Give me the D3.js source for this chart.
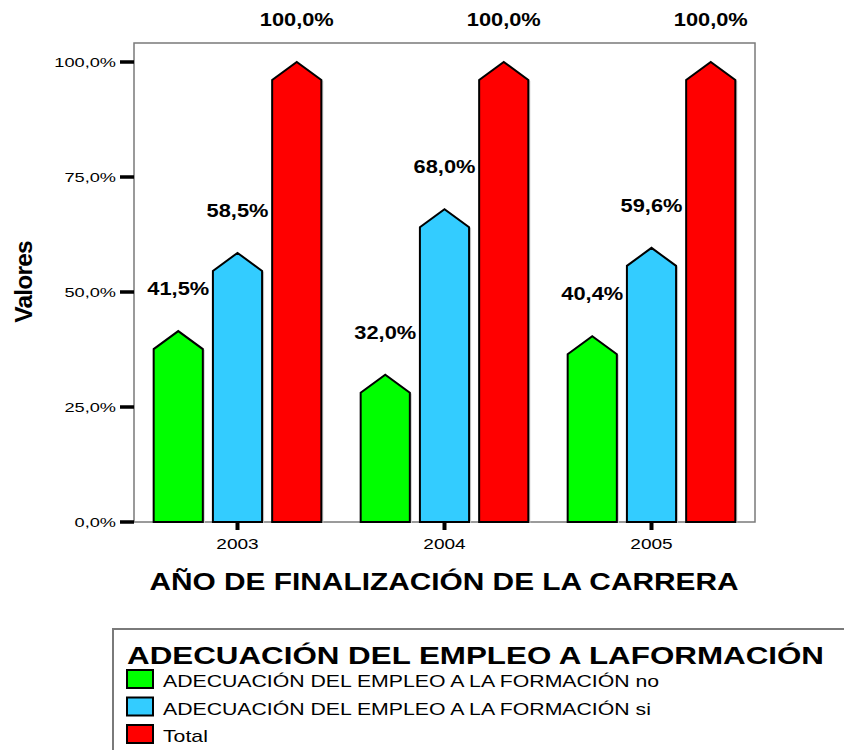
<!DOCTYPE html>
<html>
<head>
<meta charset="utf-8">
<script src="https://cdn.jsdelivr.net/npm/d3@7"></script>
<style>
  body { margin: 0; background: #fff; }
  svg { display: block; font-family: "Liberation Sans", Arial, sans-serif; }
</style>
</head>
<body>
<svg id="chart" width="844" height="750"></svg>
<script>
// data
const years = ["2003", "2004", "2005"];
const seriesKeys = ["no", "si", "total"];
const seriesLabels = [
  "ADECUACIÓN DEL EMPLEO A LA FORMACIÓN no",
  "ADECUACIÓN DEL EMPLEO A LA FORMACIÓN si",
  "Total"
];
const seriesColors = ["#00ff00", "#33ccff", "#ff0000"];
const valuesNo = [41.5, 32.0, 40.4];
const valuesSi = [58.5, 68.0, 59.6];
const valuesTotal = [100.0, 100.0, 100.0];
const yTicks = [0, 25, 50, 75, 100];

const legendTitle = "ADECUACIÓN DEL EMPLEO A LAFORMACIÓN";
const xTitle = "AÑO DE FINALIZACIÓN DE LA CARRERA";
const yTitle = "Valores";

const seriesValues = [valuesNo, valuesSi, valuesTotal];
const rows = years.map((yr, i) => ({
  year: yr,
  bars: seriesKeys.map((k, j) => ({ key: k, value: seriesValues[j][i], color: seriesColors[j] }))
}));

const svg = d3.select("#chart");
const plot = { left: 134, right: 755, top: 43, bottom: 522 };

const x0 = d3.scaleBand().domain(years)
  .range([plot.left, plot.right]).paddingInner(0.19).paddingOuter(0.095);
const x1 = d3.scaleBand().domain(seriesKeys)
  .range([0, x0.bandwidth()]).paddingInner(0.17);
const y = d3.scaleLinear().domain([0, 100]).range([plot.bottom, 62]);

const pct = v => d3.format(".1f")(v).replace(".", ",") + "%";

// text that is stretched sideways like the original
function wideText(parent, x, yPos, str, o) {
  return parent.append("text")
    .attr("transform", `translate(${x},${yPos}) scale(${o.sx || 1},1)`)
    .attr("text-anchor", o.anchor || "start")
    .attr("font-size", o.size)
    .attr("font-weight", o.bold ? "bold" : "normal")
    .attr("fill", "#000")
    .text(str);
}

// frame
svg.append("rect")
  .attr("x", plot.left).attr("y", plot.top)
  .attr("width", plot.right - plot.left).attr("height", plot.bottom - plot.top)
  .attr("fill", "none").attr("stroke", "#7a7a7a").attr("stroke-width", 1.5);

// y ticks
const yAxis = svg.append("g");
yTicks.forEach(t => {
  yAxis.append("line")
    .attr("x1", 120).attr("x2", plot.left)
    .attr("y1", y(t)).attr("y2", y(t))
    .attr("stroke", "#000").attr("stroke-width", 3.5);
  wideText(yAxis, 116, y(t) + 4.5, pct(t), { size: 13, sx: 1.4, anchor: "end" });
});

// x ticks
const xAxis = svg.append("g");
years.forEach(yr => {
  const cx = x0(yr) + x0.bandwidth() / 2;
  xAxis.append("line")
    .attr("x1", cx).attr("x2", cx)
    .attr("y1", plot.bottom).attr("y2", plot.bottom + 8)
    .attr("stroke", "#000").attr("stroke-width", 4);
  wideText(xAxis, cx, 549, yr, { size: 15, sx: 1.27, anchor: "middle" });
});

// bars with pointed tops
const peak = 18;
function arrowPath(bx, w, v) {
  const top = y(v), base = y(0);
  return `M${bx},${base} L${bx},${top + peak} L${bx + w / 2},${top} L${bx + w},${top + peak} L${bx + w},${base} Z`;
}

const groups = svg.append("g").selectAll("g")
  .data(rows).enter().append("g")
  .attr("transform", d => `translate(${x0(d.year)},0)`);

groups.selectAll("path.shadow")
  .data(d => d.bars).enter().append("path")
  .attr("class", "shadow")
  .attr("d", d => arrowPath(x1(d.key) + 2, x1.bandwidth(), d.value))
  .attr("transform", "translate(0,1)")
  .attr("fill", "#cfcfcf");

groups.selectAll("path.bar")
  .data(d => d.bars).enter().append("path")
  .attr("class", "bar")
  .attr("d", d => arrowPath(x1(d.key), x1.bandwidth(), d.value))
  .attr("fill", d => d.color)
  .attr("stroke", "#000").attr("stroke-width", 2)
  .attr("stroke-linejoin", "miter");

groups.each(function (d) {
  const g = d3.select(this);
  d.bars.forEach(b => {
    wideText(g, x1(b.key) + x1.bandwidth() / 2, y(b.value) - 36, pct(b.value),
      { size: 18.5, sx: 1.18, bold: true, anchor: "middle" });
  });
});

// axis titles
wideText(svg, 444, 590, xTitle, { size: 23.5, sx: 1.27, bold: true, anchor: "middle" });
svg.append("text")
  .attr("transform", "translate(32,282) rotate(-90)")
  .attr("text-anchor", "middle")
  .attr("font-size", 24.5).attr("font-weight", "bold")
  .attr("letter-spacing", -0.8)
  .text(yTitle);

// legend
const legend = svg.append("g");
legend.append("rect")
  .attr("x", 113).attr("y", 629).attr("width", 800).attr("height", 200)
  .attr("fill", "#fff").attr("stroke", "#7a7a7a").attr("stroke-width", 2);
legend.append("text")
  .attr("x", 127).attr("y", 664)
  .attr("font-size", 23).attr("font-weight", "bold")
  .attr("textLength", 697).attr("lengthAdjust", "spacingAndGlyphs")
  .text(legendTitle);

seriesLabels.forEach((lab, i) => {
  const ry = 670 + i * 27.5;
  legend.append("rect")
    .attr("x", 127).attr("y", ry).attr("width", 26).attr("height", 18)
    .attr("fill", seriesColors[i]).attr("stroke", "#000").attr("stroke-width", 2);
  wideText(legend, 163, ry + 17, lab, { size: 17, sx: 1.25 });
});
</script>
</body>
</html>
